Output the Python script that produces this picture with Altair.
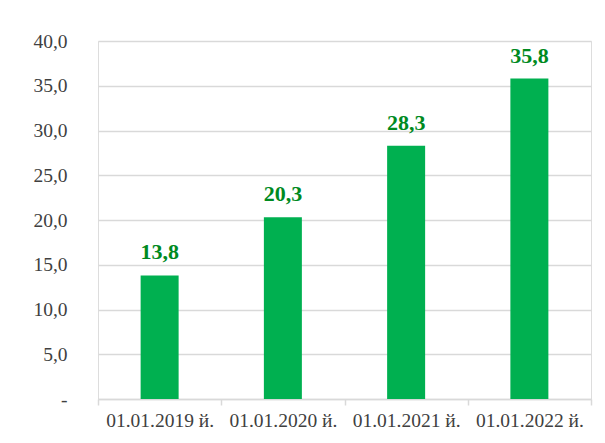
import altair as alt
import pandas as pd

categories = ["01.01.2019 й.", "01.01.2020 й.", "01.01.2021 й.", "01.01.2022 й."]
values = [13.8, 20.3, 28.3, 35.8]
labels = ["13,8", "20,3", "28,3", "35,8"]

df = pd.DataFrame({"cat": categories, "val": values, "lbl": labels})

FONT = "Liberation Serif"

x = alt.X("cat:N", sort=categories, title=None,
          scale=alt.Scale(paddingInner=0, paddingOuter=0),
          axis=alt.Axis(labelAngle=0, labelFont=FONT, labelFontSize=19.5,
                        labelColor="#404040", domainColor="#d9d9d9", domainWidth=1.5,
                        tickColor="#d9d9d9", tickWidth=1.5, tickSize=6, tickBand="extent",
                        labelPadding=6, grid=False))
y = alt.Y("val:Q", title=None,
          scale=alt.Scale(domain=[0, 40], nice=False),
          axis=alt.Axis(values=[0, 5, 10, 15, 20, 25, 30, 35, 40],
                        labelExpr="datum.value == 0 ? '-' : replace(format(datum.value, '.1f'), '.', ',')",
                        labelFont=FONT, labelFontSize=19.5, labelColor="#404040",
                        labelPadding=31, domain=False, ticks=False,
                        gridColor="#d9d9d9", gridWidth=1.5))

base = alt.Chart(df)
bars = base.mark_bar(color="#00B050", width=38).encode(x=x, y=y)
text = base.mark_text(baseline="bottom", dy=-11, font=FONT, fontSize=22,
                      fontWeight="bold", color="#008A1F").encode(
    x=alt.X("cat:N", sort=categories), y="val:Q", text="lbl:N")

chart = (bars + text).properties(
    width=493, height=358,
    autosize=alt.AutoSizeParams(type="none"),
    padding={"left": 90, "top": 33, "right": 6, "bottom": 30},
).configure_view(stroke=None).configure(background="white")

chart.save("out.html", embed_options={"renderer": "svg", "actions": False})
